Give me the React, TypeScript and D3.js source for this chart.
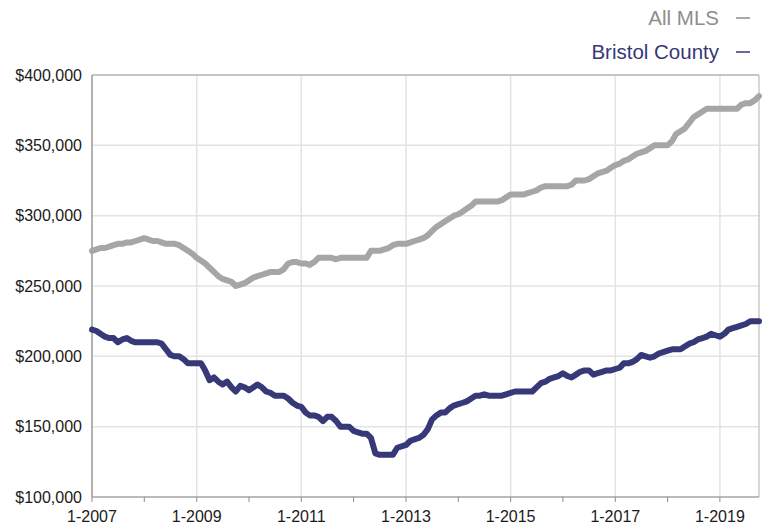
import React from 'react'
import * as d3 from 'd3'

// Monthly values, Jan 2007 - Oct 2019 (in $1,000s)
const allMls = [
  275, 276, 277, 277, 278, 279, 280, 280, 281, 281, 282, 283,
  284, 283, 282, 282, 281, 280, 280, 280, 279, 277, 275, 273,
  270, 268, 266, 263, 260, 257, 255, 254, 253, 250, 251, 252,
  254, 256, 257, 258, 259, 260, 260, 260, 262, 266, 267, 267,
  266, 266, 265, 267, 270, 270, 270, 270, 269, 270, 270, 270,
  270, 270, 270, 270, 275, 275, 275, 276, 277, 279, 280, 280,
  280, 281, 282, 283, 284, 286, 289, 292, 294, 296, 298, 300,
  301, 303, 305, 307, 310, 310, 310, 310, 310, 310, 311, 313,
  315, 315, 315, 315, 316, 317, 318, 320, 321, 321, 321, 321,
  321, 321, 322, 325, 325, 325, 326, 328, 330, 331, 332, 334,
  336, 337, 339, 340, 342, 344, 345, 346, 348, 350, 350, 350,
  350, 353, 358, 360, 362, 366, 370, 372, 374, 376, 376, 376,
  376, 376, 376, 376, 376, 379, 380, 380, 382, 385,
]

const bristol = [
  219, 218, 216, 214, 213, 213, 210, 212, 213, 211, 210, 210,
  210, 210, 210, 210, 209, 205, 201, 200, 200, 198, 195, 195,
  195, 195, 190, 183, 185, 182, 180, 182, 178, 175, 179, 178,
  176, 178, 180, 178, 175, 174, 172, 172, 172, 170, 167, 165,
  164, 160, 158, 158, 157, 154, 157, 157, 154, 150, 150, 150,
  147, 146, 145, 145, 142, 131, 130, 130, 130, 130, 135, 136,
  137, 140, 141, 142, 144, 148, 155, 158, 160, 160, 163, 165,
  166, 167, 168, 170, 172, 172, 173, 172, 172, 172, 172, 173,
  174, 175, 175, 175, 175, 175, 178, 181, 182, 184, 185, 186,
  188, 186, 185, 187, 189, 190, 190, 187, 188, 189, 190, 190,
  191, 192, 195, 195, 196, 198, 201, 200, 199, 200, 202, 203,
  204, 205, 205, 205, 207, 209, 210, 212, 213, 214, 216, 215,
  214, 216, 219, 220, 221, 222, 223, 225, 225, 225,
]

const yTicks = [100000, 150000, 200000, 250000, 300000, 350000, 400000]
const xLabelYears = [2007, 2009, 2011, 2013, 2015, 2017, 2019]
const series = [
  { name: 'All MLS', values: allMls, color: '#a6a6a6', text: '#8e8e8e' },
  { name: 'Bristol County', values: bristol, color: '#363878', text: '#363878' },
]

const W = 766
const H = 527
const margin = { top: 75, right: 7, bottom: 30, left: 92 }
const font = '"Liberation Sans", Arial, Helvetica, sans-serif'

export default function App() {
  const innerW = W - margin.left - margin.right
  const innerH = H - margin.top - margin.bottom

  const x = d3.scaleTime()
    .domain([new Date(2007, 0, 1), new Date(2019, 9, 1)])
    .range([margin.left, margin.left + innerW])
  const y = d3.scaleLinear()
    .domain([100000, 400000])
    .range([margin.top + innerH, margin.top])

  const month = (i: number) => new Date(2007, i, 1)
  const line = d3.line<number>()
    .x((_, i) => x(month(i)))
    .y(d => y(d * 1000))

  const fmt = d3.format('$,.0f')
  const years = d3.range(2007, 2020)
  const bottom = margin.top + innerH
  const right = margin.left + innerW

  return (
    <svg width={W} height={H} style={{ position: 'absolute', left: 0, top: 0 }} fontFamily={font}>
      <rect width={W} height={H} fill="#fff" />
      {/* gridlines */}
      {yTicks.map(t => (
        <line key={'gy' + t} x1={margin.left} x2={right} y1={y(t)} y2={y(t)} stroke="#e3e3e3" strokeWidth={1.5} />
      ))}
      {xLabelYears.map(yr => (
        <line key={'gx' + yr} x1={x(new Date(yr, 0, 1))} x2={x(new Date(yr, 0, 1))} y1={margin.top} y2={bottom} stroke="#e3e3e3" strokeWidth={1.5} />
      ))}
      {/* frame */}
      <line x1={margin.left} x2={right} y1={margin.top} y2={margin.top} stroke="#a0a0a0" strokeWidth={1} />
      <line x1={right} x2={right} y1={margin.top} y2={bottom} stroke="#b0b0b0" strokeWidth={1} />
      <line x1={margin.left} x2={margin.left} y1={margin.top} y2={bottom} stroke="#8c8c8c" strokeWidth={1.2} />
      <line x1={margin.left} x2={right} y1={bottom} y2={bottom} stroke="#8c8c8c" strokeWidth={1.2} />
      {years.map(yr => (
        <line key={'t' + yr} x1={x(new Date(yr, 0, 1))} x2={x(new Date(yr, 0, 1))} y1={bottom} y2={bottom + 5} stroke="#8c8c8c" strokeWidth={1} />
      ))}
      {/* series */}
      {series.map(s => (
        <path key={s.name} d={line(s.values) || ''} fill="none" stroke={s.color} strokeWidth={6} strokeLinejoin="round" strokeLinecap="round" />
      ))}
      {/* y labels */}
      {yTicks.map(t => (
        <text key={'ly' + t} x={82} y={y(t)} dy="0.35em" textAnchor="end" fontSize={16} fill="#1a1a1a">{fmt(t)}</text>
      ))}
      {/* x labels */}
      {xLabelYears.map(yr => (
        <text key={'lx' + yr} x={x(new Date(yr, 0, 1))} y={522} textAnchor="middle" fontSize={16} fill="#1a1a1a">{`1-${yr}`}</text>
      ))}
      {/* legend */}
      {series.map((s, i) => (
        <g key={'lg' + s.name} transform={`translate(0, ${25 + i * 34})`}>
          <text x={719} y={0} textAnchor="end" fontSize={20.5} fill={s.text}>{s.name}</text>
          <line x1={736} x2={750} y1={-7} y2={-7} stroke={s.text} strokeWidth={1.5} />
        </g>
      ))}
    </svg>
  )
}
